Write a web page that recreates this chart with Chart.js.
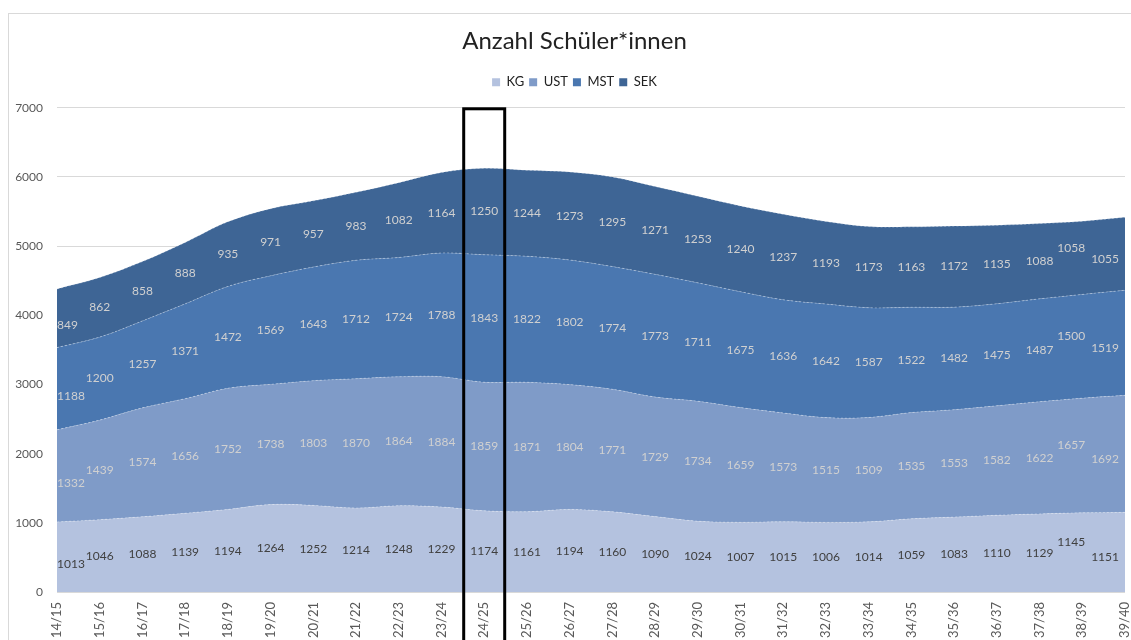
<!DOCTYPE html>
<html>
<head>
<meta charset="utf-8">
<script src="https://cdn.jsdelivr.net/npm/chart.js@4"></script>
<style>
  html, body { margin: 0; padding: 0; background: #fff; }
  #wrap { width: 1131px; height: 640px; }
</style>
</head>
<body>
<div id="wrap"><canvas id="myChart" width="1131" height="640"></canvas></div>
<script>
// school years
const years = ['14/15', '15/16', '16/17', '17/18', '18/19', '19/20', '20/21', '21/22', '22/23', '23/24',
  '24/25', '25/26', '26/27', '27/28', '28/29', '29/30', '30/31', '31/32', '32/33', '33/34',
  '34/35', '35/36', '36/37', '37/38', '38/39', '39/40'];

const kg  = [1013, 1046, 1088, 1139, 1194, 1264, 1252, 1214, 1248, 1229, 1174, 1161, 1194, 1160, 1090, 1024, 1007, 1015, 1006, 1014, 1059, 1083, 1110, 1129, 1145, 1151];
const ust = [1332, 1439, 1574, 1656, 1752, 1738, 1803, 1870, 1864, 1884, 1859, 1871, 1804, 1771, 1729, 1734, 1659, 1573, 1515, 1509, 1535, 1553, 1582, 1622, 1657, 1692];
const mst = [1188, 1200, 1257, 1371, 1472, 1569, 1643, 1712, 1724, 1788, 1843, 1822, 1802, 1774, 1773, 1711, 1675, 1636, 1642, 1587, 1522, 1482, 1475, 1487, 1500, 1519];
const sek = [849, 862, 858, 888, 935, 971, 957, 983, 1082, 1164, 1250, 1244, 1273, 1295, 1271, 1253, 1240, 1237, 1193, 1173, 1163, 1172, 1135, 1088, 1058, 1055];

const yTicks = [0, 1000, 2000, 3000, 4000, 5000, 6000, 7000];
const markedYear = '24/25';

const FONT = 'Lato, "Open Sans", sans-serif';

// shift title + legend a bit right, like the original
function shiftBox(box, dx) {
  if (!box) return;
  const draw = box.draw;
  box.draw = function (area) {
    const c = this.ctx || this.chart.ctx;
    c.save();
    c.translate(dx, 0);
    draw.call(this, area);
    c.restore();
  };
}

// frame around the whole chart
const framePlugin = {
  id: 'frame',
  afterInit(chart) {
    // leave a gap between legend and plot like the original
    const lg = chart.legend;
    if (lg) {
      const fit = lg.fit;
      lg.fit = function () {
        fit.call(this);
        this.height = 37;
      };
    }
    shiftBox(chart.legend, 12);
    shiftBox(chart.titleBlock, 12);
  },
  beforeDraw(chart) {
    const c = chart.ctx;
    c.save();
    c.strokeStyle = '#d9d9d9';
    c.lineWidth = 1;
    c.strokeRect(8.5, 13.5, 1140, 700);
    c.restore();
  }
};

// value labels in the middle of each band, plus the box around the marked year
const labelPlugin = {
  id: 'bandLabels',
  afterDatasetsDraw(chart) {
    const c = chart.ctx;
    const yScale = chart.scales.y;
    const xScale = chart.scales.x;
    const colors = ['#404040', '#d0d0d0', '#d0d0d0', '#d0d0d0'];
    c.save();
    c.font = '12px ' + FONT;
    c.textBaseline = 'middle';
    chart.data.datasets.forEach((ds, i) => {
      const meta = chart.getDatasetMeta(i);
      const prev = i > 0 ? chart.getDatasetMeta(i - 1) : null;
      const n = meta.data.length;
      meta.data.forEach((pt, j) => {
        const bottom = prev ? prev.data[j].y : yScale.getPixelForValue(0);
        let mid = (pt.y + bottom) / 2;
        let x = pt.x;
        c.textAlign = 'center';
        if (j === 0) { c.textAlign = 'left'; mid += 7; }
        if (j === n - 2) { x -= 11; mid -= 10; }
        if (j === n - 1) { c.textAlign = 'right'; x -= 6; mid += 5; }
        c.fillStyle = colors[i];
        c.fillText(String(ds.data[j]), x, mid);
      });
    });
    // highlight box
    const idx = years.indexOf(markedYear);
    const xc = xScale.getPixelForValue(idx);
    const top = yScale.getPixelForValue(7000);
    c.strokeStyle = '#000';
    c.lineWidth = 3;
    c.strokeRect(xc - 20.5, top + 1, 41, 700);
    c.restore();
  }
};

function band(label, data, color, fill) {
  return {
    label: label,
    data: data,
    backgroundColor: color,
    borderColor: 'rgba(255,255,255,0.35)',
    borderWidth: 1,
    borderDash: [2, 2],
    pointRadius: 0,
    fill: fill,
    tension: 0.35
  };
}

const ctx = document.getElementById('myChart').getContext('2d');
const myChart = new Chart(ctx, {
  type: 'line',
  data: {
    labels: years,
    datasets: [
      band('KG', kg, '#b4c2df', 'origin'),
      band('UST', ust, '#7f9bc8', '-1'),
      band('MST', mst, '#4a77b0', '-1'),
      band('SEK', sek, '#3e6595', '-1')
    ]
  },
  options: {
    responsive: false,
    animation: false,
    layout: { padding: { left: 0, right: 6, top: 0, bottom: 0 } },
    plugins: {
      title: {
        display: true,
        text: 'Anzahl Schüler*innen',
        color: '#222',
        font: { family: FONT, size: 24, weight: 'normal' },
        padding: { top: 27, bottom: 15 }
      },
      legend: {
        display: true,
        labels: {
          color: '#222',
          font: { family: FONT, size: 13 },
          boxWidth: 8,
          boxHeight: 8,
          padding: 5,
          generateLabels(chart) {
            return chart.data.datasets.map((ds, i) => ({
              text: ds.label,
              fillStyle: ds.backgroundColor,
              strokeStyle: ds.backgroundColor,
              lineWidth: 0,
              fontColor: '#222',
              hidden: false,
              datasetIndex: i
            }));
          }
        }
      },
      tooltip: { enabled: false }
    },
    scales: {
      x: {
        grid: { display: false, drawTicks: false },
        border: { display: false },
        ticks: {
          color: '#595959',
          font: { family: FONT, size: 13 },
          minRotation: 90,
          maxRotation: 90,
          autoSkip: false,
          padding: 10
        },
        afterFit(scale) {
          scale.height = 48;
          scale.paddingLeft = 0;
          scale.paddingRight = 0;
        }
      },
      y: {
        stacked: true,
        min: 0,
        max: 7000,
        afterBuildTicks(scale) { scale.ticks = yTicks.map(v => ({ value: v })); },
        grid: { color: '#d9d9d9', drawTicks: false },
        border: { display: false },
        ticks: {
          color: '#595959',
          font: { family: FONT, size: 12 },
          padding: 14,
          callback: v => String(v)
        },
        afterFit(scale) { scale.width = 57; }
      }
    }
  },
  plugins: [framePlugin, labelPlugin]
});
</script>
</body>
</html>
